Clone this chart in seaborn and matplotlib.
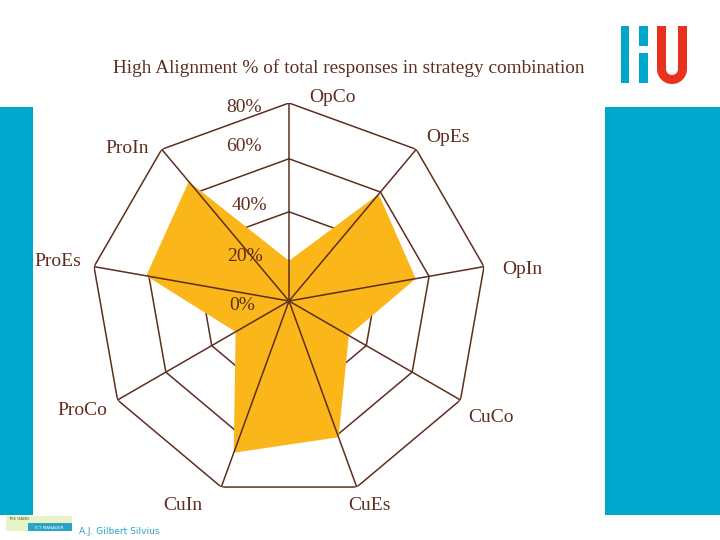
import numpy as np
import pandas as pd
import matplotlib
matplotlib.use("Agg")
import matplotlib.pyplot as plt
import seaborn as sns
from matplotlib.patches import Rectangle
from matplotlib.lines import Line2D

categories = ['OpCo', 'OpEs', 'OpIn', 'CuCo', 'CuEs', 'CuIn', 'ProCo', 'ProEs', 'ProIn']
values = [20, 59, 55, 32, 61, 67, 29, 61, 65]
ring_levels = [0, 20, 40, 60, 80]
ring_labels = ['0%', '20%', '40%', '60%', '80%']
# label offsets in pixels from the outer vertex (Excel style placement)
label_offsets = [(44, 6), (32, 12), (38, -3), (31, -18), (13, -18),
                 (-38, -18), (-35, -10), (-36, 5), (-35, 1)]
tick_offsets = [(-34, -5), (-26, 4), (-22, 6), (-27, 12), (-27, -4)]

df = pd.DataFrame({'category': categories, 'value': values})
n = len(df)
df['angle'] = np.arange(n) * 2 * np.pi / n

sns.set_theme(style='white')
plt.rcParams['font.family'] = ['Liberation Serif', 'DejaVu Serif']

brown = '#5e2e1f'
gold = '#fbb619'
hu_blue = '#00a7cc'

fig = plt.figure(figsize=(7.2, 5.4), dpi=100)
fig.patch.set_facecolor('white')


def px_rect(x0, y0, x1, y1, color):
    fig.add_artist(Rectangle((x0 / 720, 1 - y1 / 540), (x1 - x0) / 720, (y1 - y0) / 540,
                             transform=fig.transFigure, color=color, lw=0, zorder=0))


# slide decoration
px_rect(0, 107, 33, 515, hu_blue)
px_rect(605, 107, 720, 515, hu_blue)
# HU logo
px_rect(621, 26, 629, 83, hu_blue)
px_rect(639, 26, 648, 46, hu_blue)
px_rect(639, 53, 648, 83, hu_blue)
t = np.linspace(np.pi, 2 * np.pi, 30)
ux = np.concatenate([[661.5], 672 + 10.5 * np.cos(t), [682.5]])
uy = np.concatenate([[26], 69 - 10.5 * np.sin(t), [26]])
fig.add_artist(Line2D(ux / 720, 1 - uy / 540, transform=fig.transFigure,
                      color='#e8321e', lw=6.5, solid_capstyle='butt'))
# footer
px_rect(6, 516, 72, 531, '#e8f4c8')
px_rect(28, 523, 72, 531, '#29a3c6')
fig.text(8 / 720, 1 - 520 / 540, 'THE HAND', fontsize=3, color='#3a6a2a', family='DejaVu Sans')
fig.text(35 / 720, 1 - 529 / 540, 'ICT MANAGER', fontsize=3, color='white', family='DejaVu Sans')
fig.text(79 / 720, 1 - 531 / 540, 'A.J. Gilbert Silvius', fontsize=6.5, color='#2a9fcb',
         family='DejaVu Sans', va='center')

fig.text(349 / 720, 1 - 68 / 540, 'High Alignment % of total responses in strategy combination',
         ha='center', va='center', fontsize=13.9, color=brown)

# radar axes: center (289, 301) px, radius 198 px
ax = fig.add_axes([(289 - 198) / 720, (239 - 198) / 540, 396 / 720, 396 / 540], projection='polar')
ax.set_theta_zero_location('N')
ax.set_theta_direction(-1)
ax.set_rscale('function', functions=(lambda r: np.clip(r, 0, None) ** 1.15,
                                     lambda r: np.clip(r, 0, None) ** (1 / 1.15)))
ax.set_ylim(0, 80)
ax.set_facecolor('none')
ax.grid(False)
ax.spines['polar'].set_visible(False)
ax.set_xticks([])
ax.set_yticks([])

closed_angles = np.append(df['angle'].values, df['angle'].values[0])
closed_values = np.append(df['value'].values, df['value'].values[0])

# rings sit under the filled area, spokes on top of it
for lvl in ring_levels[1:]:
    ax.plot(closed_angles, [lvl] * (n + 1), color=brown, lw=1.1, zorder=1)
ax.fill(closed_angles, closed_values, color=gold, lw=0, zorder=2)
for a in df['angle']:
    ax.plot([a, a], [0, 80], color=brown, lw=1.1, zorder=3)

for a, name, off in zip(df['angle'], df['category'], label_offsets):
    ax.annotate(name, xy=(a, 80), xytext=off, textcoords='offset pixels',
                ha='center', va='center', fontsize=14, color=brown, annotation_clip=False)

for lvl, lab, off in zip(ring_levels, ring_labels, tick_offsets):
    ax.annotate(lab, xy=(0, lvl), xytext=off, textcoords='offset pixels',
                ha='right', va='center', fontsize=14, color=brown, annotation_clip=False,
                zorder=4)

fig.savefig('out.png', dpi=100)
